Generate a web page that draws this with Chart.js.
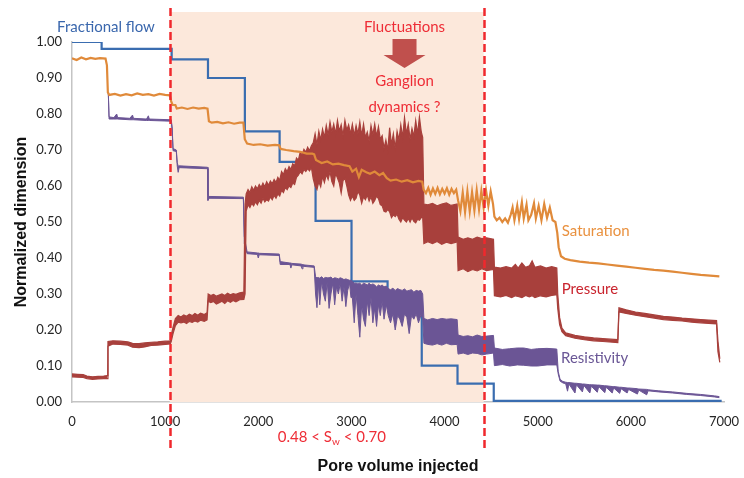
<!DOCTYPE html>
<html>
<head>
<meta charset="utf-8">
<script src="https://cdn.jsdelivr.net/npm/chart.js@4.4.1/dist/chart.umd.min.js"></script>
<style>
  html, body { margin: 0; padding: 0; background: #fff; }
  #wrap { width: 744px; height: 478px; }
</style>
</head>
<body>
<div id="wrap"><canvas id="myChart"></canvas></div>
<script>
// pore volume injected vs normalized value
// fractional flow: [x where the level starts, level]
const fracFlow = [
  [0,1.00],[318,0.981],[1070,0.952],[1460,0.900],[1856,0.752],[2229,0.667],[2615,0.503],
  [3001,0.335],[3388,0.270],[3755,0.101],[4139,0.051],[4528,0.003],[6975,0.003]
];

// saturation: [x, y]
const saturation = [
  [0,0.955],[50,0.950],[100,0.957],[150,0.952],[200,0.956],[250,0.953],[300,0.955],[360,0.954],[375,0.935],
  [385,0.860],[400,0.853],[460,0.856],[520,0.851],[580,0.855],[640,0.852],[700,0.857],[760,0.853],[820,0.855],
  [880,0.851],[940,0.856],[1000,0.853],[1050,0.852],[1065,0.835],[1080,0.825],[1110,0.825],[1125,0.815],
  [1180,0.818],[1240,0.814],[1300,0.818],[1360,0.815],[1420,0.817],[1455,0.815],[1470,0.780],[1500,0.776],
  [1560,0.778],[1620,0.774],[1680,0.777],[1740,0.773],[1800,0.776],[1840,0.776],[1855,0.730],[1880,0.718],
  [1950,0.714],[2020,0.716],[2100,0.712],[2180,0.714],[2225,0.713],[2240,0.703],[2300,0.700],[2380,0.697],
  [2450,0.695],[2520,0.690],[2580,0.690],[2600,0.688],[2620,0.672],[2680,0.664],[2740,0.668],[2800,0.660],
  [2860,0.662],[2920,0.658],[2980,0.655],[3010,0.640],[3050,0.648],[3080,0.625],[3110,0.645],[3160,0.638],
  [3200,0.634],[3250,0.640],[3300,0.630],[3340,0.636],[3380,0.622],[3420,0.615],[3480,0.618],[3540,0.612],
  [3600,0.616],[3660,0.610],[3720,0.614],[3760,0.612],[3775,0.590],
  [3800,0.580],[3825,0.595],[3850,0.576],[3875,0.593],[3900,0.578],[3925,0.595],[3950,0.577],[3975,0.592],
  [4000,0.579],[4025,0.594],[4050,0.576],[4075,0.592],[4100,0.580],[4125,0.590],
  [4145,0.560],[4170,0.530],[4195,0.582],[4220,0.528],[4245,0.585],[4270,0.530],[4295,0.583],[4320,0.532],
  [4345,0.588],[4370,0.535],[4395,0.586],[4420,0.540],[4445,0.588],[4470,0.545],[4495,0.585],[4520,0.550],
  [4535,0.515],[4560,0.505],[4590,0.512],[4620,0.500],[4650,0.510],[4680,0.498],[4710,0.520],[4730,0.540],
  [4750,0.505],[4780,0.545],[4800,0.508],[4830,0.555],[4850,0.510],[4880,0.548],[4900,0.505],[4930,0.520],
  [4960,0.552],[4980,0.510],[5010,0.545],[5040,0.505],[5070,0.550],[5100,0.512],[5130,0.540],[5160,0.505],
  [5190,0.500],[5210,0.470],[5225,0.430],[5250,0.405],[5290,0.398],[5350,0.394],[5450,0.390],[5550,0.387],
  [5650,0.385],[5750,0.382],[5850,0.379],[5950,0.376],[6050,0.373],[6150,0.370],[6250,0.367],[6350,0.365],
  [6450,0.362],[6550,0.359],[6650,0.356],[6750,0.353],[6850,0.351],[6950,0.349]
];

// pressure: [x, low, high] of the fluctuating signal
const pressure = [
  [0,0.070,0.078],[60,0.069,0.077],[120,0.068,0.076],[160,0.065,0.072],[220,0.063,0.070],[280,0.064,0.071],
  [340,0.065,0.072],[378,0.065,0.073],
  [386,0.155,0.168],[440,0.161,0.170],[520,0.160,0.169],[600,0.158,0.167],[650,0.152,0.163],[720,0.151,0.162],
  [780,0.153,0.164],[850,0.157,0.166],[920,0.158,0.167],[1000,0.160,0.169],[1055,0.161,0.170],
  [1065,0.168,0.185],[1085,0.190,0.208],[1110,0.212,0.232],[1140,0.222,0.240],[1170,0.220,0.236],
  [1200,0.222,0.242],[1230,0.218,0.238],[1260,0.224,0.244],[1290,0.221,0.240],[1320,0.225,0.246],
  [1350,0.222,0.241],[1380,0.227,0.247],[1420,0.224,0.243],[1450,0.228,0.248],
  [1462,0.280,0.300],[1490,0.276,0.296],[1520,0.279,0.299],[1550,0.272,0.294],[1580,0.276,0.297],
  [1610,0.280,0.300],[1640,0.274,0.296],[1670,0.281,0.302],[1700,0.277,0.298],[1730,0.282,0.301],
  [1760,0.278,0.299],[1800,0.284,0.303],[1845,0.285,0.305],
  [1858,0.300,0.550],[1870,0.530,0.578],[1890,0.548,0.590],[1910,0.540,0.582],[1930,0.552,0.598],
  [1950,0.545,0.588],[1970,0.556,0.600],[1990,0.548,0.592],[2010,0.560,0.604],[2030,0.552,0.596],
  [2050,0.566,0.608],[2070,0.556,0.598],[2090,0.562,0.612],[2110,0.558,0.602],[2130,0.570,0.614],
  [2150,0.562,0.606],[2170,0.574,0.618],[2190,0.566,0.610],[2210,0.578,0.624],[2230,0.572,0.616],
  [2250,0.588,0.640],[2270,0.582,0.632],[2290,0.596,0.648],[2310,0.590,0.640],[2330,0.600,0.654],
  [2350,0.596,0.646],[2370,0.608,0.662],[2390,0.604,0.656],[2410,0.624,0.678],[2430,0.630,0.672],
  [2450,0.640,0.694],[2470,0.634,0.686],[2490,0.646,0.702],[2510,0.640,0.694],[2530,0.648,0.708],
  [2550,0.642,0.698],[2570,0.652,0.712],[2590,0.620,0.720],
  [2610,0.600,0.745],[2630,0.590,0.715],[2650,0.612,0.752],[2670,0.598,0.728],[2690,0.626,0.758],
  [2710,0.610,0.735],[2730,0.632,0.768],[2750,0.618,0.742],[2770,0.640,0.778],[2790,0.612,0.750],
  [2810,0.600,0.772],[2830,0.635,0.745],[2850,0.622,0.782],[2870,0.608,0.752],[2890,0.580,0.770],
  [2910,0.615,0.740],[2930,0.622,0.782],[2950,0.600,0.755],[2970,0.575,0.770],[2990,0.560,0.745],
  [3010,0.572,0.772],[3030,0.560,0.740],[3050,0.566,0.768],[3070,0.585,0.745],[3090,0.575,0.778],
  [3110,0.552,0.740],[3130,0.570,0.772],[3150,0.562,0.735],[3170,0.575,0.750],[3190,0.558,0.725],
  [3210,0.570,0.768],[3230,0.552,0.742],[3250,0.560,0.772],[3270,0.572,0.738],[3290,0.565,0.765],
  [3310,0.548,0.730],[3330,0.545,0.740],
  [3350,0.530,0.705],[3370,0.528,0.728],[3390,0.535,0.700],[3410,0.528,0.762],[3430,0.512,0.715],
  [3450,0.520,0.745],[3470,0.515,0.705],[3490,0.522,0.752],
  [3510,0.508,0.728],[3530,0.500,0.770],[3550,0.512,0.735],[3570,0.505,0.790],[3590,0.500,0.745],
  [3610,0.510,0.772],[3630,0.500,0.730],[3650,0.512,0.760],[3670,0.502,0.738],[3690,0.498,0.782],
  [3710,0.508,0.745],[3730,0.505,0.792],[3750,0.512,0.750],[3765,0.515,0.735],
  [3778,0.440,0.550],[3820,0.445,0.548],[3870,0.440,0.552],[3920,0.446,0.545],[3970,0.438,0.550],
  [4020,0.444,0.553],[4070,0.440,0.546],[4135,0.445,0.550],
  [4145,0.365,0.458],[4200,0.370,0.452],[4250,0.362,0.456],[4300,0.368,0.452],[4350,0.364,0.458],
  [4400,0.370,0.454],[4450,0.365,0.456],[4525,0.368,0.452],
  [4535,0.295,0.375],[4600,0.292,0.372],[4660,0.296,0.376],[4720,0.290,0.372],[4760,0.295,0.382],
  [4790,0.293,0.372],[4830,0.290,0.386],[4870,0.296,0.374],[4910,0.292,0.378],[4940,0.295,0.392],
  [4970,0.290,0.374],[5030,0.295,0.378],[5090,0.292,0.372],[5150,0.296,0.376],[5205,0.298,0.372],
  [5215,0.260,0.300],[5235,0.215,0.235],[5260,0.195,0.205],[5300,0.184,0.192],[5400,0.177,0.185],
  [5500,0.173,0.181],[5600,0.170,0.178],[5700,0.168,0.176],[5860,0.165,0.173],[5872,0.250,0.262],
  [5950,0.246,0.256],[6050,0.241,0.250],[6150,0.237,0.246],[6250,0.233,0.242],[6350,0.229,0.238],
  [6450,0.227,0.236],[6550,0.225,0.233],[6650,0.222,0.231],[6750,0.220,0.229],[6920,0.217,0.226],
  [6935,0.140,0.170],[6955,0.110,0.120]
];

// resistivity: [x, low, high]
const resistivity = [
  [390,0.856,0.860],[398,0.786,0.792],[450,0.786,0.790],[480,0.786,0.800],[490,0.786,0.790],
  [620,0.784,0.788],[650,0.784,0.797],[660,0.784,0.788],[800,0.782,0.786],[820,0.782,0.795],
  [830,0.782,0.786],[1065,0.780,0.784],
  [1075,0.755,0.765],[1085,0.698,0.704],[1120,0.696,0.700],[1130,0.655,0.665],[1140,0.638,0.655],
  [1150,0.651,0.656],[1455,0.648,0.652],
  [1460,0.560,0.575],[1470,0.566,0.571],[1840,0.565,0.569],
  [1850,0.440,0.460],[1860,0.430,0.445],[1880,0.412,0.417],[1990,0.410,0.414],[2000,0.400,0.414],
  [2010,0.409,0.413],[2225,0.407,0.411],
  [2235,0.382,0.390],[2340,0.382,0.386],[2350,0.372,0.386],[2360,0.381,0.385],[2460,0.378,0.383],
  [2470,0.370,0.382],[2480,0.377,0.381],[2600,0.374,0.378],
  [2615,0.300,0.348],[2630,0.262,0.345],[2645,0.330,0.346],[2660,0.270,0.344],[2680,0.335,0.348],
  [2700,0.300,0.343],[2720,0.280,0.346],[2740,0.335,0.345],[2760,0.260,0.345],[2780,0.300,0.347],
  [2800,0.330,0.342],[2820,0.270,0.345],[2840,0.320,0.344],[2860,0.300,0.342],[2880,0.330,0.345],
  [2900,0.280,0.343],[2920,0.320,0.340],[2940,0.265,0.342],[2960,0.310,0.340],[2980,0.330,0.338],
  [2995,0.290,0.338],
  [3010,0.290,0.335],[3030,0.220,0.330],[3050,0.300,0.330],[3070,0.240,0.328],[3090,0.180,0.330],
  [3110,0.270,0.325],[3130,0.230,0.330],[3150,0.210,0.328],[3170,0.280,0.325],[3190,0.240,0.330],
  [3210,0.290,0.325],[3230,0.220,0.328],[3250,0.260,0.325],[3270,0.210,0.320],[3290,0.270,0.325],
  [3310,0.240,0.322],[3330,0.280,0.325],[3350,0.230,0.320],[3375,0.270,0.322],
  [3395,0.240,0.315],[3420,0.220,0.312],[3445,0.245,0.316],[3470,0.200,0.310],[3495,0.240,0.315],
  [3520,0.230,0.312],[3545,0.210,0.310],[3570,0.245,0.314],[3595,0.235,0.308],[3620,0.190,0.310],
  [3645,0.240,0.312],[3670,0.230,0.305],[3695,0.245,0.310],[3720,0.220,0.308],[3745,0.240,0.310],
  [3765,0.235,0.300],
  [3778,0.163,0.232],[3820,0.160,0.228],[3870,0.158,0.232],[3920,0.162,0.229],[3970,0.158,0.232],
  [4020,0.163,0.230],[4070,0.159,0.231],[4135,0.160,0.229],
  [4145,0.133,0.186],[4200,0.136,0.182],[4250,0.132,0.184],[4300,0.136,0.181],[4350,0.135,0.186],
  [4400,0.131,0.182],[4450,0.133,0.183],[4525,0.136,0.185],
  [4535,0.101,0.150],[4620,0.104,0.146],[4700,0.100,0.148],[4780,0.103,0.150],[4850,0.102,0.150],
  [4930,0.100,0.146],[5000,0.100,0.148],[5100,0.103,0.149],[5205,0.103,0.147],
  [5220,0.078,0.085],[5240,0.058,0.063],[5270,0.053,0.057],[5300,0.051,0.055],[5320,0.030,0.054],
  [5335,0.050,0.054],[5400,0.025,0.052],[5415,0.048,0.052],[5480,0.028,0.050],[5495,0.046,0.050],
  [5560,0.025,0.048],[5575,0.044,0.048],[5640,0.027,0.047],[5655,0.043,0.047],[5720,0.026,0.045],
  [5735,0.041,0.045],[5800,0.025,0.043],[5815,0.039,0.043],[5880,0.024,0.041],[5895,0.037,0.041],
  [5960,0.025,0.039],[5975,0.035,0.039],[6070,0.022,0.037],[6085,0.033,0.036],[6170,0.020,0.035],
  [6185,0.031,0.034],[6300,0.028,0.031],[6450,0.025,0.028],[6600,0.021,0.024],[6750,0.018,0.021],
  [6900,0.014,0.017],[6950,0.012,0.015]
];

// window of S_w shown shaded
const zoneStart = 1050;
const zoneEnd = 4420;

const xTicks = [0, 1000, 2000, 3000, 4000, 5000, 6000, 7000];
const yTicks = [0, 0.1, 0.2, 0.3, 0.4, 0.5, 0.6, 0.7, 0.8, 0.9, 1.0];

const seriesLabels = ['Fractional flow', 'Saturation', 'Pressure', 'Resistivity'];

Chart.defaults.font.family = 'Lato, "Open Sans", sans-serif';

function toXY(arr, k) { return arr.map(p => ({x: p[0], y: p[k]})); }

const overlay = {
  id: 'overlay',
  beforeDatasetsDraw(chart) {
    const {ctx, chartArea: a, scales: {x}} = chart;
    const x1 = x.getPixelForValue(zoneStart), x2 = x.getPixelForValue(zoneEnd);
    ctx.save();
    ctx.fillStyle = '#fce8db';
    ctx.fillRect(x1, a.top - 30, x2 - x1, a.bottom - a.top + 30);
    ctx.restore();
  },
  afterDatasetsDraw(chart) {
    const {ctx, chartArea: a, scales: {x, y}} = chart;
    ctx.save();
    // dashed boundaries
    ctx.strokeStyle = '#f0282d';
    ctx.lineWidth = 2.5;
    ctx.setLineDash([8, 4]);
    [zoneStart, zoneEnd].forEach(v => {
      const px = Math.round(x.getPixelForValue(v)) + 0.5;
      ctx.beginPath();
      ctx.moveTo(px, a.top - 34);
      ctx.lineTo(px, a.bottom + 46);
      ctx.stroke();
    });
    ctx.setLineDash([]);

    // arrow
    const ax = x.getPixelForValue(3570);
    ctx.fillStyle = '#c0504d';
    ctx.beginPath();
    ctx.moveTo(ax - 12, a.top - 3);
    ctx.lineTo(ax + 12, a.top - 3);
    ctx.lineTo(ax + 12, a.top + 13);
    ctx.lineTo(ax + 21, a.top + 13);
    ctx.lineTo(ax, a.top + 26);
    ctx.lineTo(ax - 21, a.top + 13);
    ctx.lineTo(ax - 12, a.top + 13);
    ctx.closePath();
    ctx.fill();

    ctx.textBaseline = 'middle';
    ctx.font = '15px Lato';
    ctx.textAlign = 'center';
    ctx.fillStyle = '#ee2d36';
    ctx.fillText('Fluctuations', ax, a.top - 15);
    ctx.fillText('Ganglion', ax, a.top + 39);
    ctx.fillText('dynamics ?', ax, a.top + 65);

    // series labels
    ctx.textAlign = 'left';
    ctx.fillStyle = '#3a67ad';
    ctx.fillText(seriesLabels[0], x.getPixelForValue(-160), a.top - 15);
    ctx.fillStyle = '#e9913f';
    ctx.fillText(seriesLabels[1], x.getPixelForValue(5258), y.getPixelForValue(0.474));
    ctx.fillStyle = '#c9242e';
    ctx.fillText(seriesLabels[2], x.getPixelForValue(5258), y.getPixelForValue(0.313));
    ctx.fillStyle = '#6a5796';
    ctx.fillText(seriesLabels[3], x.getPixelForValue(5250), y.getPixelForValue(0.121));

    // 0.48 < Sw < 0.70
    const cx = x.getPixelForValue(2790), cy = a.bottom + 35;
    ctx.fillStyle = '#ee2d36';
    ctx.font = '15px Lato';
    const p1 = '0.48 < S', p3 = ' < 0.70';
    const w1 = ctx.measureText(p1).width, w3 = ctx.measureText(p3).width;
    ctx.font = '10px Lato';
    const w2 = ctx.measureText('w').width;
    let sx = cx - (w1 + w2 + w3) / 2;
    ctx.font = '15px Lato';
    ctx.fillText(p1, sx, cy);
    ctx.font = '10px Lato';
    ctx.fillText('w', sx + w1, cy + 5);
    ctx.font = '15px Lato';
    ctx.fillText(p3, sx + w1 + w2, cy);
    ctx.restore();
  }
};

const presColor = '#a8403c';
const resColor = '#6b5595';

new Chart(document.getElementById('myChart'), {
  type: 'line',
  data: {
    datasets: [{
      label: seriesLabels[1],
      data: toXY(saturation, 1),
      borderColor: '#e08a3a',
      borderWidth: 2.2,
      order: 0
    }, {
      label: seriesLabels[2] + ' low',
      data: toXY(pressure, 1),
      borderColor: presColor,
      borderWidth: 1.2,
      order: 1
    }, {
      label: seriesLabels[2],
      data: toXY(pressure, 2),
      borderColor: presColor,
      backgroundColor: presColor,
      borderWidth: 1.2,
      fill: '-1',
      order: 1
    }, {
      label: seriesLabels[3] + ' low',
      data: toXY(resistivity, 1),
      borderColor: resColor,
      borderWidth: 1,
      order: 2
    }, {
      label: seriesLabels[3],
      data: toXY(resistivity, 2),
      borderColor: resColor,
      backgroundColor: resColor,
      borderWidth: 1,
      fill: '-1',
      order: 2
    }, {
      label: seriesLabels[0],
      data: toXY(fracFlow, 1),
      borderColor: '#3a6db0',
      borderWidth: 2.2,
      stepped: 'before',
      order: 3
    }]
  },
  options: {
    responsive: true,
    maintainAspectRatio: false,
    animation: false,
    layout: { padding: { top: 42, right: 20, left: 0, bottom: 0 } },
    elements: { point: { radius: 0 }, line: { tension: 0, borderJoinStyle: 'miter' } },
    plugins: { legend: { display: false }, tooltip: { enabled: false } },
    scales: {
      x: {
        type: 'linear',
        min: 0, max: 7000,
        afterBuildTicks: s => { s.ticks = xTicks.map(v => ({value: v})); },
        afterFit: s => { s.height = 76; s.paddingLeft = 0; s.paddingRight = 0; },
        grid: { display: false, drawTicks: false },
        border: { display: true, color: '#c4c4c4', width: 1.5 },
        ticks: { color: '#262626', font: { size: 13 }, padding: 12, maxRotation: 0, callback: v => String(v) },
        title: {
          display: true, text: 'Pore volume injected', color: '#111',
          font: { family: '"Liberation Sans", Arial, sans-serif', size: 16, weight: 'bold' },
          padding: { top: 0, bottom: 2 }
        }
      },
      y: {
        min: 0, max: 1,
        afterBuildTicks: s => { s.ticks = yTicks.map(v => ({value: v})); },
        afterFit: s => { s.width = 72; s.paddingTop = 0; s.paddingBottom = 0; },
        grid: { display: false, drawTicks: false },
        border: { display: true, color: '#c4c4c4', width: 1.5 },
        ticks: { color: '#262626', font: { size: 13 }, padding: 10, callback: v => v.toFixed(2) },
        title: {
          display: true, text: 'Normalized dimension', color: '#111',
          font: { family: '"Liberation Sans", Arial, sans-serif', size: 16, weight: 'bold' },
          padding: { top: 12, bottom: 0 }
        }
      }
    }
  },
  plugins: [overlay]
});
</script>
</body>
</html>
